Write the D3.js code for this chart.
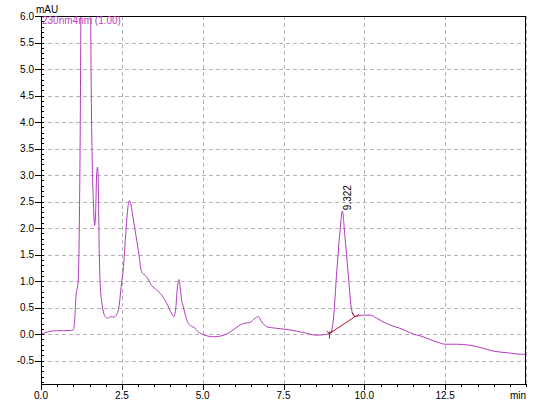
<!DOCTYPE html>
<meta charset="utf-8">
<style>
  body { margin: 0; background: #fff; }
  text { font-family: "Liberation Sans", Arial, sans-serif; font-size: 10px; }
</style>
<svg width="551" height="403"></svg>
<script src="https://d3js.org/d3.v7.min.js"></script>
<script>

// chromatogram trace (time in min, signal in mAU)
var times = [0.00,0.10,0.20,0.35,0.50,0.70,0.90,1.00,1.04,1.08,1.15,1.19,1.21,1.24,1.30,1.42,1.52,1.55,1.58,1.62,
  1.66,1.69,1.72,1.75,1.77,1.80,1.83,1.88,1.93,2.00,2.06,2.15,2.25,2.35,2.42,2.48,2.54,2.63,2.69,2.73,
  2.77,2.82,2.91,3.01,3.11,3.18,3.27,3.42,3.58,3.73,3.89,4.04,4.11,4.17,4.22,4.27,4.31,4.35,4.40,4.45,
  4.56,4.65,4.75,4.85,4.95,5.07,5.33,5.59,5.85,6.10,6.26,6.46,6.62,6.72,6.83,6.98,7.29,7.70,8.11,8.53,
  8.84,8.95,9.04,9.15,9.25,9.32,9.40,9.50,9.61,9.71,9.85,9.97,10.18,10.38,10.69,10.90,11.10,11.30,11.52,11.72,
  12.03,12.30,12.50,12.86,13.27,13.58,13.99,14.40,14.92,15.00];
var signal = [0.00,0.02,0.04,0.06,0.065,0.065,0.07,0.08,0.25,0.70,1.00,2.30,3.60,6.50,9.00,10.0,8.00,4.85,3.40,2.50,
  2.05,2.30,3.00,3.15,2.90,1.60,0.95,0.60,0.42,0.32,0.30,0.33,0.32,0.38,0.55,0.90,1.20,1.96,2.40,2.52,
  2.47,2.30,1.96,1.58,1.18,1.13,1.08,0.92,0.83,0.74,0.58,0.39,0.33,0.50,0.89,1.03,0.85,0.64,0.52,0.39,
  0.20,0.15,0.12,0.05,0.01,-0.02,-0.05,-0.03,0.04,0.15,0.20,0.22,0.30,0.33,0.23,0.14,0.11,0.08,0.03,-0.02,
  0.00,0.02,0.26,1.20,1.96,2.32,1.84,1.15,0.45,0.33,0.35,0.36,0.36,0.30,0.20,0.15,0.11,0.06,0.00,-0.03,
  -0.10,-0.16,-0.19,-0.19,-0.21,-0.25,-0.32,-0.35,-0.38,-0.38];

var xTicks = [0, 2.5, 5, 7.5, 10, 12.5];
var xTickLabels = ["0.0", "2.5", "5.0", "7.5", "10.0", "12.5"];
var yTicks = [-0.5, 0, 0.5, 1, 1.5, 2, 2.5, 3, 3.5, 4, 4.5, 5, 5.5, 6];
var yTickLabels = ["-0.5", "0.0", "0.5", "1.0", "1.5", "2.0", "2.5", "3.0", "3.5", "4.0", "4.5", "5.0", "5.5", "6.0"];

var peakTime = 9.322, peakHeight = 2.32, peakLabel = "9.322";
var baseStart = [8.92, 0.01], baseEnd = [9.71, 0.33];
var traceName = "230nm4nm (1.00)";

var svg = d3.select("svg");
var pLeft = 41, pRight = 526, pTop = 16, pBottom = 384;

var x = d3.scaleLinear().domain([0, 15]).range([pLeft, pRight]);
var y = d3.scaleLinear().domain([-0.94, 6]).range([pBottom, pTop]);

var magenta = "#b03cbc";

// grid
var grid = svg.append("g").attr("stroke", "#b4b4b4").attr("stroke-dasharray", "4,3").attr("shape-rendering", "crispEdges");
grid.selectAll("line.v").data(xTicks.slice(1).concat([15])).enter().append("line")
    .attr("x1", function(d) { return Math.round(x(d)) + 0.5; }).attr("x2", function(d) { return Math.round(x(d)) + 0.5; })
    .attr("y1", pTop).attr("y2", pBottom);
grid.selectAll("line.h").data(yTicks.slice(0, -1)).enter().append("line")
    .attr("y1", function(d) { return Math.round(y(d)) + 0.5; }).attr("y2", function(d) { return Math.round(y(d)) + 0.5; })
    .attr("x1", pLeft).attr("x2", pRight);

// trace
svg.append("clipPath").attr("id", "plot").append("rect")
    .attr("x", pLeft).attr("y", pTop).attr("width", pRight - pLeft).attr("height", pBottom - pTop);

var pts = times.map(function(t, i) { return [t, signal[i]]; });
var line = d3.line().x(function(d) { return x(d[0]); }).y(function(d) { return y(d[1]); }).curve(d3.curveMonotoneX);

svg.append("path").datum(pts)
    .attr("clip-path", "url(#plot)")
    .attr("fill", "none").attr("stroke", magenta).attr("stroke-width", 1)
    .attr("d", line);

// integration baseline
var red = "#b01818";
svg.append("line")
    .attr("x1", x(baseStart[0])).attr("y1", y(baseStart[1]))
    .attr("x2", x(baseEnd[0])).attr("y2", y(baseEnd[1]))
    .attr("stroke", red).attr("stroke-width", 1);
svg.append("path")
    .attr("d", "M" + x(baseStart[0]) + "," + (y(baseStart[1]) - 2) + "v7" +
               "M" + (x(baseStart[0]) - 3) + "," + (y(baseStart[1]) - 3) + "l3,3l3,-3")
    .attr("fill", "none").attr("stroke", red);
svg.append("path")
    .attr("d", "M" + (x(baseEnd[0]) - 3) + "," + (y(baseEnd[1]) - 4) + "l3,4l4,-2")
    .attr("fill", "none").attr("stroke", red);

// peak label
svg.append("text")
    .attr("transform", "translate(" + (x(peakTime) + 9) + "," + (y(peakHeight) - 1) + ") rotate(-90)")
    .attr("fill", "#000")
    .text(peakLabel);

// frame
svg.append("rect")
    .attr("x", pLeft + 0.5).attr("y", pTop + 0.5).attr("width", pRight - pLeft - 1).attr("height", pBottom - pTop)
    .attr("fill", "none").attr("stroke", "#000").attr("shape-rendering", "crispEdges");

// x axis ticks
var ax = svg.append("g").attr("stroke", "#000").attr("shape-rendering", "crispEdges");
ax.selectAll("line.minor").data(d3.range(0, 15.01, 0.5)).enter().append("line")
    .attr("x1", function(d) { return Math.round(x(d)) + 0.5; }).attr("x2", function(d) { return Math.round(x(d)) + 0.5; })
    .attr("y1", pBottom).attr("y2", function(d) { return (d % 2.5 === 0 && d < 15) ? pBottom + 6 : pBottom + 3; });
svg.selectAll("text.xl").data(xTicks).enter().append("text")
    .attr("x", function(d) { return x(d); }).attr("y", 399)
    .attr("text-anchor", "middle").text(function(d, i) { return xTickLabels[i]; });
svg.append("text").attr("x", pRight).attr("y", 399).attr("text-anchor", "end").text("min");

// y axis ticks
ax.selectAll("line.yminor").data(d3.range(-9, 61).map(function(d) { return d / 10; })).enter().append("line")
    .attr("y1", function(d) { return Math.round(y(d)) + 0.5; }).attr("y2", function(d) { return Math.round(y(d)) + 0.5; })
    .attr("x1", pLeft).attr("x2", pLeft + 3);
ax.selectAll("line.ymajor").data(yTicks).enter().append("line")
    .attr("y1", function(d) { return Math.round(y(d)) + 0.5; }).attr("y2", function(d) { return Math.round(y(d)) + 0.5; })
    .attr("x1", pLeft - 6).attr("x2", pLeft);
svg.selectAll("text.yl").data(yTicks).enter().append("text")
    .attr("x", pLeft - 7).attr("y", function(d) { return y(d) + 3.5; })
    .attr("text-anchor", "end").text(function(d, i) { return yTickLabels[i]; });
svg.append("text").attr("x", 36).attr("y", 13).text("mAU");

// trace name
svg.append("text").attr("x", 42).attr("y", 24).attr("fill", "#c040c0").text(traceName);

</script>
